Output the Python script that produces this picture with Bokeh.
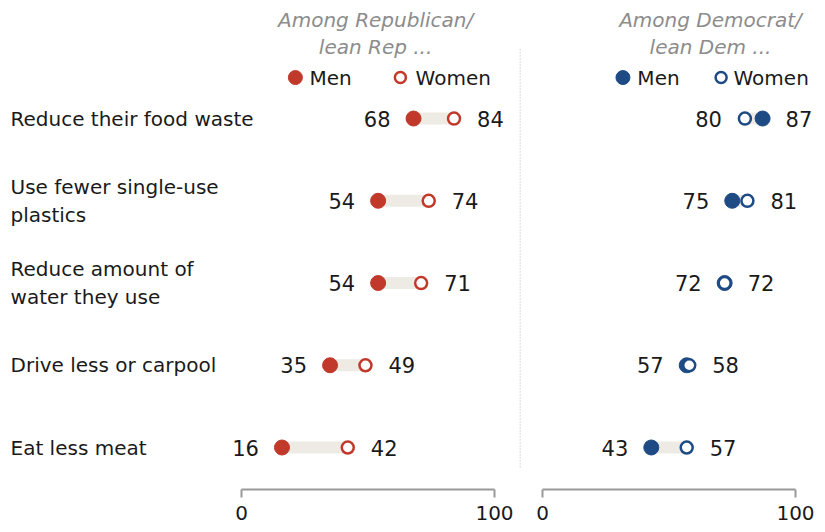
from bokeh.plotting import figure
from bokeh.layouts import row
from bokeh.models import Range1d, LinearAxis, FixedTicker, ColumnDataSource
from bokeh.embed import file_html
from bokeh.resources import INLINE
from bokeh.core.properties import value

# ---------------- data ----------------
categories = [
    "Reduce their food waste",
    "Use fewer single-use\nplastics",
    "Reduce amount of\nwater they use",
    "Drive less or carpool",
    "Eat less meat",
]
rep_men = [68, 54, 54, 35, 16]
rep_women = [84, 74, 71, 49, 42]
dem_men = [87, 75, 72, 57, 43]
dem_women = [80, 81, 72, 58, 57]
axis_ticks = [0, 100]
rep_title = "Among Republican/\nlean Rep ..."
dem_title = "Among Democrat/\nlean Dem ..."
legend_labels = ["Men", "Women"]

# ---------------- style ----------------
FONT = "DejaVu Sans"
RED = "#C0392B"
BLUE = "#1F4B84"
BAR = "#EEEBE5"
TXT = "#1a1a1a"
GREY = "#8C8C8C"
H = 530
Y_RANGE = (5.009, -1.435)   # rows top->bottom
AXIS_Y = 4.511
LEGEND_Y = -0.498
TITLE_Y = -1.033


def make_panel(width, xr, men, women, color, title, title_x, leg_x, with_labels=False, sep_x=None):
    p = figure(width=width, height=H, x_range=Range1d(*xr), y_range=Range1d(*Y_RANGE),
               output_backend="svg", toolbar_location=None,
               x_axis_location=None, y_axis_location=None,
               min_border=0, min_border_left=0, min_border_right=0,
               min_border_top=0, min_border_bottom=0)
    p.outline_line_color = None
    p.grid.visible = False
    p.background_fill_color = "white"
    p.border_fill_color = "white"

    ys = list(range(len(men)))
    lo = [min(a, b) for a, b in zip(men, women)]
    hi = [max(a, b) for a, b in zip(men, women)]
    src = ColumnDataSource(dict(y=ys, men=men, women=women, lo=lo, hi=hi,
                                lo_txt=[str(v) for v in lo], hi_txt=[str(v) for v in hi]))

    if sep_x is not None:
        p.segment(x0=[sep_x], y0=[-0.84], x1=[sep_x], y1=[4.243],
                  line_color="#A0A0A0", line_width=1, line_dash="1 2")

    p.segment(x0="men", y0="y", x1="women", y1="y", source=src,
              line_width=12, line_color=BAR, line_cap="butt")
    p.scatter(x="men", y="y", source=src, size=15, fill_color=color, line_color=color)
    p.scatter(x="women", y="y", source=src, size=12, fill_color="white",
              line_color=color, line_width=2.5)

    p.text(x="lo", y="y", text="lo_txt", source=src, x_offset=-23,
           text_align="right", text_baseline="middle",
           text_font=value(FONT), text_font_size="21px", text_color=TXT)
    p.text(x="hi", y="y", text="hi_txt", source=src, x_offset=23,
           text_align="left", text_baseline="middle",
           text_font=value(FONT), text_font_size="21px", text_color=TXT)

    # legend
    p.scatter(x=[leg_x[0]], y=[LEGEND_Y], size=14, fill_color=color, line_color=color)
    p.scatter(x=[leg_x[2]], y=[LEGEND_Y], size=11, fill_color="white",
              line_color=color, line_width=2.5)
    p.text(x=[leg_x[1], leg_x[3]], y=[LEGEND_Y, LEGEND_Y], text=legend_labels,
           text_align="left", text_baseline="middle",
           text_font=value(FONT), text_font_size="20px", text_color=TXT)

    # title
    p.text(x=[title_x], y=[TITLE_Y], text=[title], text_align="center",
           text_baseline="middle", text_font=value(FONT), text_font_style="italic",
           text_font_size="20px", text_color=GREY, text_line_height=1.12)

    if with_labels:
        p.text(x=[-91.3] * len(categories), y=ys, text=categories,
               text_align="left", text_baseline="middle",
               text_font=value(FONT), text_font_size="20px", text_color=TXT,
               text_line_height=1.16)

    ax = LinearAxis(ticker=FixedTicker(ticks=axis_ticks), bounds=(0, 100),
                    fixed_location=AXIS_Y,
                    major_tick_out=8, major_tick_in=0,
                    minor_tick_out=0, minor_tick_in=0,
                    axis_line_color="#999999", axis_line_width=2,
                    major_tick_line_color="#999999", major_tick_line_width=2,
                    major_label_text_font=FONT, major_label_text_font_size="20px",
                    major_label_text_color=TXT, major_label_standoff=8)
    p.add_layout(ax, "below")
    return p


pA = make_panel(519, (-95.26, 109.88), rep_men, rep_women, RED, rep_title, 53.0,
                (21.3, 26.9, 62.8, 68.8), with_labels=True)
pB = make_panel(304, (-9.09, 111.07), dem_men, dem_women, BLUE, dem_title, 66.4,
                (31.8, 37.5, 70.6, 75.5), sep_x=-8.89)

layout = row(pA, pB)
open("out.html", "w").write(file_html(layout, INLINE))
